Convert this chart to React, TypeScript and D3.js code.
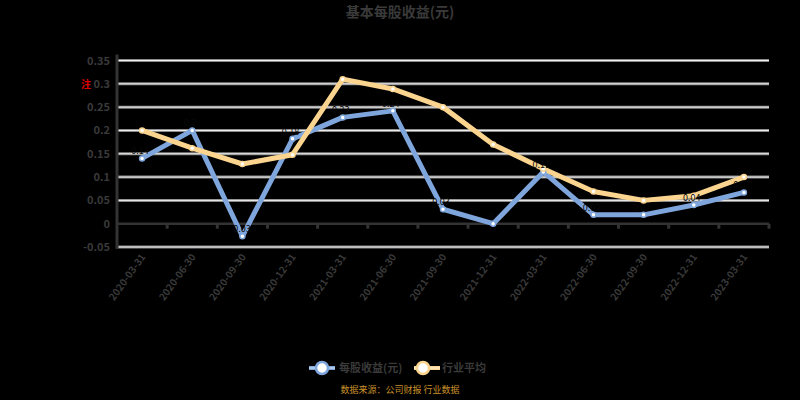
import React from "react";
import * as d3 from "d3";

const categories = [
  "2020-03-31", "2020-06-30", "2020-09-30", "2020-12-31", "2021-03-31",
  "2021-06-30", "2021-09-30", "2021-12-31", "2022-03-31", "2022-06-30",
  "2022-09-30", "2022-12-31", "2023-03-31",
];
const seriesA = [0.14, 0.2, -0.027, 0.182, 0.228, 0.242, 0.031, 0.0, 0.111, 0.019, 0.019, 0.04, 0.067];
const seriesB = [0.2, 0.162, 0.128, 0.148, 0.31, 0.289, 0.25, 0.17, 0.118, 0.069, 0.05, 0.06, 0.1];
const yTicks = [-0.05, 0, 0.05, 0.1, 0.15, 0.2, 0.25, 0.3, 0.35];
const nameA = "每股收益(元)";
const nameB = "行业平均";
const title = "基本每股收益(元)";
const footer = "数据来源：公司财报 行业数据";

const W = 800;
const H = 400;
const left = 117;
const right = 769;
const top = 60.5;
const bottom = 247;

const textColor = "#3a3a3a";
const blue = "#7fa6dc";
const orange = "#fbd58f";

export default function App() {
  const x = d3.scaleBand<string>().domain(categories).range([left, right]).padding(0);
  const y = d3.scaleLinear().domain([-0.05, 0.35]).range([bottom, top]);
  const cx = (c: string) => (x(c) as number) + x.bandwidth() / 2;
  const line = d3
    .line<number>()
    .x((_, i) => cx(categories[i]))
    .y((d) => y(d));
  const fmt = (v: number) => (v === 0 ? "0" : String(+v.toFixed(2)));
  const font = "'Noto Sans CJK SC', 'Noto Sans', sans-serif";

  return (
    <svg width={W} height={H} style={{ position: "absolute", left: 0, top: 0, background: "#000" }} fontFamily={font}>
      <rect x={0} y={0} width={W} height={H} fill="#000" />
      <text x={400} y={17} textAnchor="middle" fontSize={14} fontWeight="bold" fill={textColor}>
        {title}
      </text>
      {yTicks.filter((t) => t !== 0).map((t) => (
        <g key={t}>
          <line x1={left} x2={right} y1={y(t)} y2={y(t)} stroke="#8a8a8a" strokeWidth={3} />
          <line x1={left} x2={right} y1={y(t)} y2={y(t)} stroke="#f2f2f2" strokeWidth={1} />
        </g>
      ))}
      <line x1={left} x2={right} y1={y(0)} y2={y(0)} stroke="#333" strokeWidth={2.5} />
      {categories.map((c) => (
        <line key={c} x1={(x(c) as number) + x.bandwidth()} x2={(x(c) as number) + x.bandwidth()} y1={y(0)} y2={y(0) + 5} stroke="#333" strokeWidth={3} />
      ))}
      <line x1={left} x2={left} y1={top - 6} y2={bottom + 2} stroke="#333" strokeWidth={3} />
      {yTicks.map((t) => (
        <text key={t} x={110} y={y(t) + 4} textAnchor="end" fontSize={11} fontWeight="bold" fill={textColor}>
          {fmt(t)}
        </text>
      ))}
      <text x={81} y={y(0.3) + 4} fontSize={10} fill="#e00000" fontWeight="bold">注</text>
      {categories.map((c) => (
        <text
          key={c}
          transform={`translate(${cx(c) + 4},${257}) rotate(-54)`}
          textAnchor="end"
          fontSize={10}
          fontWeight="bold"
          fill={textColor}
        >
          {c}
        </text>
      ))}
      <path d={line(seriesA) || ""} fill="none" stroke={blue} strokeWidth={5} strokeLinejoin="round" />
      <path d={line(seriesB) || ""} fill="none" stroke={orange} strokeWidth={5} strokeLinejoin="round" />
      {seriesA.map((v, i) => (
        <circle key={"a" + i} cx={cx(categories[i])} cy={y(v)} r={2.5} fill="#fff" stroke={blue} strokeWidth={1.5} />
      ))}
      {seriesB.map((v, i) => (
        <circle key={"b" + i} cx={cx(categories[i])} cy={y(v)} r={2.5} fill="#fff" stroke={orange} strokeWidth={1.5} />
      ))}
      {seriesA.map((v, i) => (
        <text key={"la" + i} x={cx(categories[i]) - 2} y={y(v) - 4} fontSize={9} fill="#0a0a0a" textAnchor="middle">
          {fmt(v)}
        </text>
      ))}
      <g>
        <line x1={309} x2={335} y1={368} y2={368} stroke={blue} strokeWidth={4} />
        <line x1={309} x2={335} y1={368} y2={368} stroke="#dfe9f7" strokeWidth={1} />
        <circle cx={322} cy={368} r={6} fill="#fff" stroke={blue} strokeWidth={2.5} />
        <text x={339} y={372} fontSize={11} fontWeight="bold" fill={textColor}>{nameA}</text>
        <line x1={414} x2={440} y1={368} y2={368} stroke={orange} strokeWidth={4} />
        <line x1={414} x2={440} y1={368} y2={368} stroke="#fff3dc" strokeWidth={1} />
        <circle cx={423} cy={368} r={6} fill="#fff" stroke={orange} strokeWidth={2.5} />
        <text x={442} y={372} fontSize={11} fontWeight="bold" fill={textColor}>{nameB}</text>
      </g>
      <text x={400} y={393} textAnchor="middle" fontSize={9} fill="#c8902a">
        {footer}
      </text>
    </svg>
  );
}
